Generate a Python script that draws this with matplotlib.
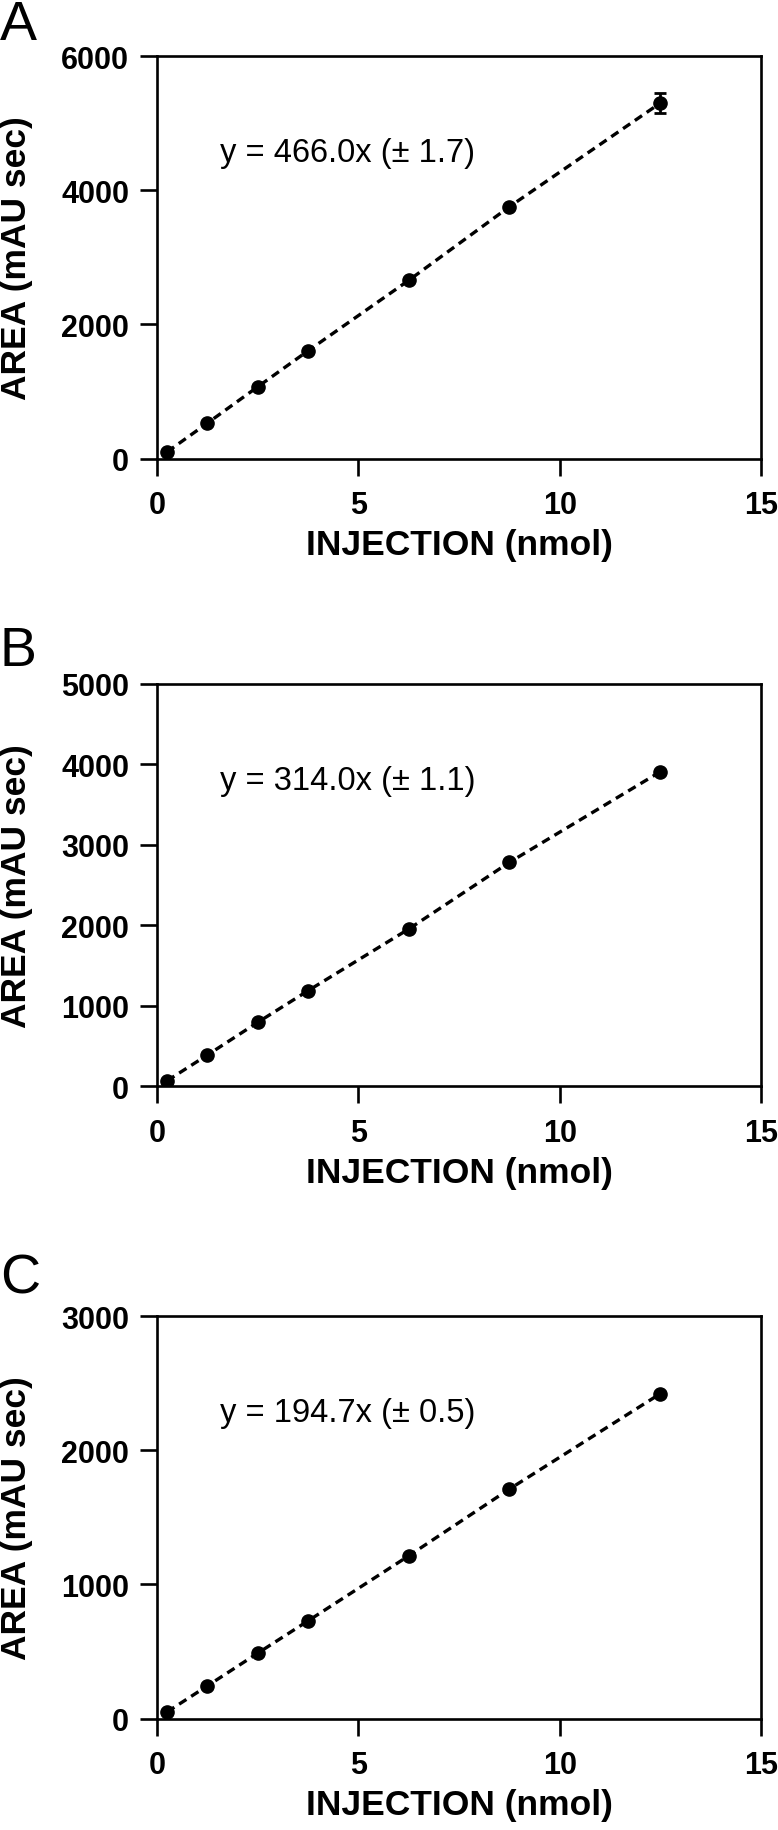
import matplotlib
matplotlib.use("Agg")
import matplotlib.pyplot as plt

plt.rcParams['font.family'] = ['Liberation Sans', 'DejaVu Sans']

# Data
injection = [0.25, 1.25, 2.5, 3.75, 6.25, 8.75, 12.5]
area_A = [98, 527, 1069, 1606, 2657, 3755, 5303]
err_A = [0, 0, 0, 0, 0, 0, 150]
area_B = [70, 389, 795, 1188, 1954, 2782, 3908]
area_C = [49, 243, 487, 728, 1213, 1711, 2423]

panel_letters = ['A', 'B', 'C']
equations = ['y = 466.0x (± 1.7)', 'y = 314.0x (± 1.1)', 'y = 194.7x (± 0.5)']
ymax = [6000, 5000, 3000]
yticks = [[0, 2000, 4000, 6000], [0, 1000, 2000, 3000, 4000, 5000], [0, 1000, 2000, 3000]]
xticks = [0, 5, 10, 15]
xlabel = 'INJECTION (nmol)'
ylabel = 'AREA (mAU sec)'

W, H = 778, 1831
fig = plt.figure(figsize=(W / 100, H / 100), dpi=100)

# axes boxes in pixels: left, top, width, height
boxes = [(157, 57.3, 604, 402.2), (157, 684.8, 604, 402.6), (157, 1317.3, 604, 402.2)]
letter_baselines = [40, 666, 1294]
series = [(area_A, err_A), (area_B, None), (area_C, None)]

for i in range(3):
    l, t, w, h = boxes[i]
    ax = fig.add_axes([l / W, 1 - (t + h) / H, w / W, h / H])
    ys, errs = series[i]
    ax.plot(injection, ys, linestyle=(0, (2.6, 1.7)), color='black', linewidth=2.4,
            dash_capstyle='butt', zorder=2)
    if errs is not None:
        ax.errorbar(injection, ys, yerr=errs, fmt='o', color='black', markersize=9.5,
                    capsize=4.5, elinewidth=2.0, capthick=2.0, zorder=3)
    else:
        ax.plot(injection, ys, 'o', color='black', markersize=9.5, zorder=3)
    ax.set_xlim(0, 15)
    ax.set_ylim(0, ymax[i])
    ax.set_xticks(xticks)
    ax.set_yticks(yticks[i])
    for s in ax.spines.values():
        s.set_linewidth(1.9)
    ax.tick_params(axis='both', which='major', direction='out', length=12.5, width=1.9,
                   labelsize=22, top=False, right=False)
    ax.tick_params(axis='x', pad=10)
    ax.tick_params(axis='y', pad=7.5)
    for lab in ax.get_xticklabels() + ax.get_yticklabels():
        lab.set_fontweight('bold')
    ax.set_xlabel(xlabel, fontsize=25.5, fontweight='bold')
    ax.set_ylabel(ylabel, fontsize=25.5, fontweight='bold')
    ax.xaxis.set_label_coords(0.5, -0.172)
    ax.yaxis.set_label_coords(-0.205, 0.5)
    ax.text(0.105, 0.76, equations[i], transform=ax.transAxes, fontsize=23.5,
            ha='left', va='center')
    fig.text(0.0, 1 - letter_baselines[i] / H, panel_letters[i], fontsize=40,
             ha='left', va='baseline')

fig.savefig('out.png', dpi=100)
